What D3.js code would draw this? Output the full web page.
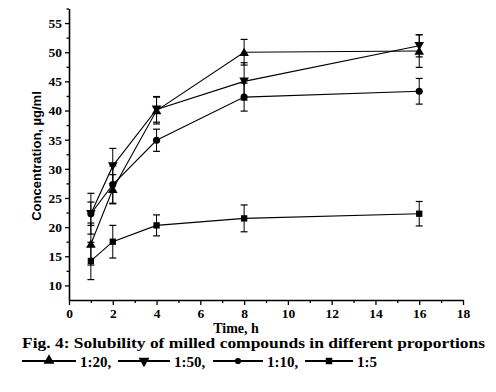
<!DOCTYPE html>
<html><head><meta charset="utf-8">
<script src="https://cdn.jsdelivr.net/npm/d3@7"></script>
<style>body{margin:0;background:#fff}svg{display:block}</style>
</head><body>
<svg id="c" width="496" height="392"></svg>
<script>
const times = [1, 2, 4, 8, 16];
const seriesNames = ["1:20", "1:50", "1:10", "1:5"];
const v120 = [17.1, 26.5, 40.0, 50.0, 50.2];
const e120 = [3.6, 2.5, 2.3, 2.2, 2.8];
const v150 = [22.3, 30.5, 40.2, 45.0, 51.1];
const e150 = [2.0, 3.0, 2.2, 3.2, 1.9];
const v110 = [22.3, 27.3, 34.9, 42.3, 43.3];
const e110 = [3.5, 3.2, 1.9, 2.4, 2.2];
const v15 = [14.2, 17.5, 20.3, 21.5, 22.3];
const e15 = [3.2, 2.8, 1.8, 2.3, 2.1];
const xTicks = [0, 2, 4, 6, 8, 10, 12, 14, 16, 18];
const yTicks = [10, 15, 20, 25, 30, 35, 40, 45, 50, 55];

const series = [
  {name: seriesNames[0], v: v120, e: e120, sym: "up"},
  {name: seriesNames[1], v: v150, e: e150, sym: "down"},
  {name: seriesNames[2], v: v110, e: e110, sym: "circle"},
  {name: seriesNames[3], v: v15, e: e15, sym: "square"}
];

const svg = d3.select("#c");
const x = d3.scaleLinear().domain([0, 18]).range([69, 463]);
const y = d3.scaleLinear().domain([7.5, 57.5]).range([300, 8.5]);

const serif = "serif";
const sans = "Arial";

// axes
const xAxis = d3.axisBottom(x).tickValues(xTicks).tickSize(5).tickSizeOuter(0).tickPadding(3);
svg.append("g").attr("transform", "translate(0,300)").call(xAxis);
const xMinor = d3.axisBottom(x).tickValues(d3.range(1, 18, 2)).tickSize(3).tickFormat("").tickSizeOuter(0);
svg.append("g").attr("transform", "translate(0,300)").call(xMinor).select(".domain").remove();

const yAxis = d3.axisLeft(y).tickValues(yTicks).tickSize(4).tickSizeOuter(0).tickPadding(3);
svg.append("g").attr("transform", "translate(69,0)").call(yAxis);
const yMinor = d3.axisLeft(y).tickValues(d3.range(12.5, 57.6, 5)).tickSize(2.5).tickFormat("").tickSizeOuter(0);
svg.append("g").attr("transform", "translate(69,0)").call(yMinor).select(".domain").remove();

svg.selectAll(".domain").attr("stroke", "#000").attr("stroke-width", 1.6);
svg.selectAll(".tick line").attr("stroke", "#000").attr("stroke-width", 1.3);
svg.selectAll(".tick text").style("font-family", serif).style("font-weight", "bold").style("font-size", "13.5px").attr("fill", "#000");

// axis titles
svg.append("text").attr("x", 236).attr("y", 333).attr("text-anchor", "middle")
  .style("font-family", serif).style("font-weight", "bold").style("font-size", "14px").text("Time, h");
svg.append("text").attr("transform", "translate(41,156) rotate(-90)").attr("text-anchor", "middle")
  .style("font-family", sans).style("font-weight", "bold").style("font-size", "13px")
  .text("Concentration, \u00b5g/ml");

// symbols
function symPath(type, size) {
  if (type === "up" || type === "down") return d3.symbol(d3.symbolTriangle, size)();
  if (type === "circle") return d3.symbol(d3.symbolCircle, size)();
  return d3.symbol(d3.symbolSquare, size)();
}
function symTransform(type, cx, cy) {
  return `translate(${cx},${cy})` + (type === "down" ? " rotate(180)" : "");
}

const line = d3.line().x(d => x(d[0])).y(d => y(d[1]));

series.forEach(s => {
  const pts = times.map((t, i) => [t, s.v[i], s.e[i]]);
  const g = svg.append("g");
  pts.forEach(p => {
    const cx = x(p[0]);
    g.append("line").attr("x1", cx).attr("x2", cx).attr("y1", y(p[1] + p[2])).attr("y2", y(p[1] - p[2]))
      .attr("stroke", "#000").attr("stroke-width", 1);
    [p[1] + p[2], p[1] - p[2]].forEach(ev => {
      g.append("line").attr("x1", cx - 3.5).attr("x2", cx + 3.5).attr("y1", y(ev)).attr("y2", y(ev))
        .attr("stroke", "#000").attr("stroke-width", 1.2);
    });
  });
  g.append("path").attr("d", line(pts)).attr("fill", "none").attr("stroke", "#000").attr("stroke-width", 1.1);
  pts.forEach(p => {
    g.append("path").attr("d", symPath(s.sym, 40))
      .attr("transform", symTransform(s.sym, x(p[0]), y(p[1]) + (s.sym === "up" ? 1 : (s.sym === "down" ? -1 : 0))))
      .attr("fill", "#000");
  });
});

// caption
svg.append("text").attr("x", 22).attr("y", 348).style("font-family", serif).style("font-weight", "bold")
  .style("font-size", "15px").attr("textLength", 463).attr("lengthAdjust", "spacingAndGlyphs")
  .text("Fig. 4: Solubility of milled compounds in different proportions");

// legend line
const legendPos = [
  {x0: 22, w: 54, tx: 80, label: "1:20,"},
  {x0: 118, w: 52, tx: 174, label: "1:50,"},
  {x0: 213, w: 50, tx: 267, label: "1:10,"},
  {x0: 305, w: 48, tx: 357, label: "1:5"}
];
const ly = 361;
series.forEach((s, i) => {
  const lp = legendPos[i];
  svg.append("line").attr("x1", lp.x0).attr("x2", lp.x0 + lp.w).attr("y1", ly).attr("y2", ly)
    .attr("stroke", "#000").attr("stroke-width", 2.2);
  const size = s.sym === "circle" ? 30 : (s.sym === "square" ? 42 : 52);
  svg.append("path").attr("d", symPath(s.sym, size))
    .attr("transform", symTransform(s.sym, lp.x0 + lp.w / 2, ly + (s.sym === "up" ? -0.5 : 0)))
    .attr("fill", "#000");
  svg.append("text").attr("x", lp.tx).attr("y", 366.5).style("font-family", serif).style("font-weight", "bold")
    .style("font-size", "15px").text(lp.label);
});
</script>
</body></html>
